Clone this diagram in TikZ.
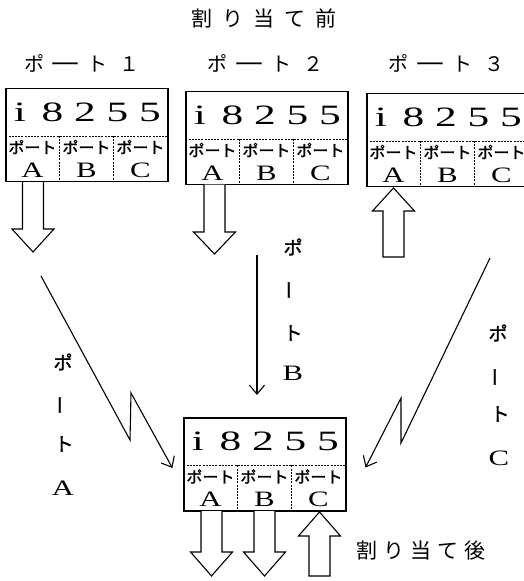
\documentclass[tikz,border=0pt]{standalone}
\usepackage{fontspec}
\setmainfont{Liberation Serif}
\newfontfamily\jp{Noto Sans CJK JP}
\newfontfamily\jpb{Noto Sans CJK JP}[FakeBold=1.6]
\usetikzlibrary{arrows.meta,calc}

\newcommand\wch[1]{\makebox[32.5pt]{\scalebox{1.55}[1]{#1}}}
\newcommand\chiptext{\wch{i}\wch{8}\wch{2}\wch{5}\wch{5}}
\newcommand\lat[1]{\scalebox{1.4}[1]{#1}}
\newcommand\hb[1]{\makebox[32pt]{#1}}
\newcommand\tb[1]{\makebox[31pt]{#1}}
\newcommand\ab[1]{\makebox[27pt]{#1}}

\tikzset{
  box/.style={draw, line width=1.1pt, minimum width=162pt, minimum height=93pt, inner sep=0pt},
  sepline/.style={line width=0.9pt, dash pattern=on 2pt off 1.2pt},
  chiptxt/.style={font=\fontsize{28}{28}\selectfont, inner sep=0pt},
  porttxt/.style={font=\jpb\fontsize{16}{16}\selectfont, inner sep=0pt},
  lettxt/.style={font=\fontsize{22}{22}\selectfont, inner sep=0pt},
  headtxt/.style={font=\jp\fontsize{20}{20}\selectfont, inner sep=0pt},
  titletxt/.style={font=\jp\fontsize{21}{21}\selectfont, inner sep=0pt},
  vtxt/.style={font=\jpb\fontsize{19}{19}\selectfont, inner sep=0pt},
  blk/.style={draw, line width=1.1pt, line join=miter, fill=white},
  wire/.style={line width=1.1pt, line join=miter, -{Straight Barb[length=9pt,width=15pt,line width=1.1pt]}},
}

% name, center x, center y
\newcommand\chipbox[3]{%
  \node[box] (#1) at (#2,#3) {};
  \draw[sepline] ($(#1.north west)+(0,48)$) -- ($(#1.north east)+(0,48)$);
  \draw[sepline] ($(#1.north west)+(54,48)$) -- ($(#1.south west)+(54,0)$);
  \draw[sepline] ($(#1.north west)+(108,48)$) -- ($(#1.south west)+(108,0)$);
  \node[chiptxt] (#1-chip) at ($(#1.north)+(-2,24)$) {\chiptext};
  \foreach \k/\L in {0/A,1/B,2/C} {
    \node[porttxt] (#1-p\k) at ($(#1.north west)+(27+54*\k,59)$) {ポート};
    \node[lettxt] (#1-l\k) at ($(#1.north west)+(27+54*\k,82)$) {\lat{\L}};
  }
}
% down block arrow: x, top, head base, tip
\newcommand\blkdown[4]{%
  \draw[blk] (#1-10.5,#2) -- (#1-10.5,#3) -- (#1-21,#3) -- (#1,#4) -- (#1+21,#3) -- (#1+10.5,#3) -- (#1+10.5,#2);
}
% up block arrow: x, bottom, head base, tip
\newcommand\blkup[4]{%
  \draw[blk] (#1-10.5,#2) -- (#1-10.5,#3) -- (#1-21,#3) -- (#1,#4) -- (#1+21,#3) -- (#1+10.5,#3) -- (#1+10.5,#2) -- cycle;
}

\begin{document}
\begin{tikzpicture}[x=1pt,y=-1pt]
\useasboundingbox (0,0) rectangle (523,581);

% titles
\node[titletxt] (title) at (264,18) {\tb{割}\tb{り}\tb{当}\tb{て}\tb{前}};
\node[headtxt] (h1) at (82,63) {\hb{ポ}\hb{\scalebox{1.6}[1]{ー}}\hb{ト}\hb{１}};
\node[headtxt] (h2) at (265,63) {\hb{ポ}\hb{\scalebox{1.6}[1]{ー}}\hb{ト}\hb{２}};
\node[headtxt] (h3) at (446,63) {\hb{ポ}\hb{\scalebox{1.6}[1]{ー}}\hb{ト}\hb{３}};

% boxes
\chipbox{b1}{87}{135}
\chipbox{b2}{267}{138}
\chipbox{b3}{448}{140}
\chipbox{bot}{265}{464.5}

% block arrows
\blkdown{33}{182}{229}{252}
\blkdown{214.5}{184.5}{232}{254}
\blkup{393.5}{257}{211}{188}
\blkdown{211.5}{511}{552}{576}
\blkdown{264.5}{511}{552}{576}
\blkup{319.5}{576}{536}{512}

% connectors
\coordinate (la) at (41,276);
\coordinate (lt) at ($(bot.west)+(-11,3.5)$);
\draw[wire] (la) -- (130,440) -- (131,393) -- (lt);

\coordinate (ra) at (490,258);
\coordinate (rt) at ($(bot.east)+(19,3)$);
\draw[wire] (ra) -- (401,443) -- (401,398) -- (rt);

\coordinate (ba) at (257,255);
\coordinate (bt) at (257,395);
\draw[wire] (ba) -- (bt);

% vertical labels
\node[vtxt] (la1) at (63,362) {ポ};
\node[vtxt,rotate=90] (la2) at (63,405) {ー};
\node[vtxt] (la3) at (64,444) {ト};
\node[lettxt] (la4) at (63,488) {\lat{A}};

\node[vtxt] (lb1) at (293,247) {ポ};
\node[vtxt,rotate=90] (lb2) at (292,290) {ー};
\node[vtxt] (lb3) at (293,333) {ト};
\node[lettxt] (lb4) at (293,373) {\lat{B}};

\node[vtxt] (lc1) at (498,333) {ポ};
\node[vtxt,rotate=90] (lc2) at (498,377) {ー};
\node[vtxt] (lc3) at (500,414) {ト};
\node[lettxt] (lc4) at (499,458) {\lat{C}};

\node[titletxt] (after) at (421,551) {\ab{割}\ab{り}\ab{当}\ab{て}\ab{後}};
\end{tikzpicture}
\end{document}
